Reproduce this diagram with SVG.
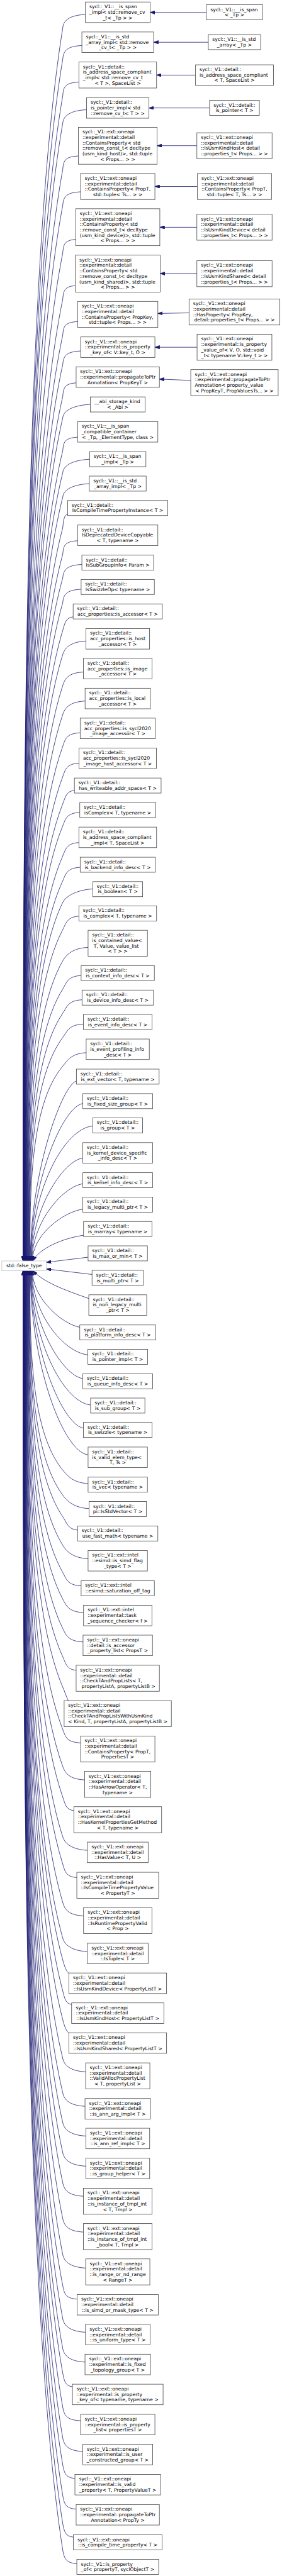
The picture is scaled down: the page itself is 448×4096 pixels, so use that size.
<svg xmlns="http://www.w3.org/2000/svg" width="448" height="4096" viewBox="0 0 448 4096">
<style>
text{font-family:"DejaVu Sans","Liberation Sans",sans-serif;font-size:13px;fill:#000}
.c{text-anchor:middle}
.n rect{fill:#fff;stroke:#404040;stroke-width:1.33}
#ft rect{stroke:#bfbfbf}
#edges path{fill:none;stroke:#191970;stroke-width:1.33;marker-end:url(#ah)}
</style>
<defs><marker id="ah" markerUnits="userSpaceOnUse" viewBox="0 0 13.3 9.4" markerWidth="13.3" markerHeight="9.4" refX="12.8" refY="4.7" orient="auto"><path d="M0,0L13.3,4.7L0,9.4z" fill="#191970" stroke="#191970" stroke-width="1"/></marker></defs>
<rect width="448" height="4096" fill="#fff"/>
<g transform="scale(0.5934)">
<g id="edges">
<path d="M552.4,33.3L401.9,33.3"/>
<path d="M557.7,113.2L411.3,113.2"/>
<path d="M523.5,201.2L419.2,201.2"/>
<path d="M561,289.3L398.8,289.3"/>
<path d="M527.1,390.4L420.7,390.4"/>
<path d="M528.5,499.7L414.7,499.7"/>
<path d="M527.1,609L427.9,609"/>
<path d="M527.1,733L428.9,733"/>
<path d="M506.1,838.4L422.6,839.9"/>
<path d="M527.6,930.5L414.7,930.5"/>
<path d="M510.7,1019.3L426.7,1015.9"/>
<path d="M228.6,38.8C188.6,40.8 170,52.8 168,74.8C62,735.6 62,2222.4 62,3378.8"/>
<path d="M219.2,122C179.2,124 170,136 168,158C62,802.2 62,2251.5 62,3378.8"/>
<path d="M211.2,220C172,222 170,234 168,256C62.1,880.6 62.1,2285.8 62.1,3378.8"/>
<path d="M231.7,294C191.7,296 170,308 168,330C62.1,939.8 62.1,2311.7 62.1,3378.8"/>
<path d="M209.8,418C172,420 170,432 168,454C62.2,1039 62.2,2355.1 62.2,3378.8"/>
<path d="M215.8,514C175.8,516 170,528 168,550C62.4,1115.8 62.4,2388.7 62.4,3378.8"/>
<path d="M202.6,641.6C172,643.6 170,655.6 168,677.6C62.5,1217.9 62.5,2433.4 62.5,3378.8"/>
<path d="M201.6,765.5C172,767.5 170,779.5 168,801.5C62.7,1317 62.7,2476.7 62.7,3378.8"/>
<path d="M207.8,861.7C172,863.7 170,875.7 168,897.7C62.9,1394 62.9,2510.4 62.9,3378.8"/>
<path d="M215.8,940.5C175.8,942.5 170,954.5 168,976.5C63.2,1457 63.2,2538 63.2,3378.8"/>
<path d="M203.8,1026C172,1028 170,1040 168,1062C63.5,1525.4 63.5,2567.9 63.5,3378.8"/>
<path d="M241.8,1083.6C201.8,1085.6 170,1097.6 168,1119.6C63.8,1571.5 63.8,2588.1 63.8,3378.8"/>
<path d="M207.8,1171.5C172,1173.5 170,1185.5 168,1207.5C64.1,1641.8 64.1,2618.8 64.1,3378.8"/>
<path d="M239.9,1230.6C199.9,1232.6 170,1244.6 168,1266.6C64.5,1689.1 64.5,2639.5 64.5,3378.8"/>
<path d="M239.1,1296C199.1,1298 170,1310 168,1332C64.9,1741.4 64.9,2662.4 64.9,3378.8"/>
<path d="M181.1,1378C172,1380 170,1392 168,1414C65.3,1807 65.3,2691.1 65.3,3378.8"/>
<path d="M207.8,1449C172,1451 170,1463 168,1485C65.8,1863.8 65.8,2716 65.8,3378.8"/>
<path d="M219.2,1512.5C179.2,1514.5 170,1526.5 168,1548.5C66.3,1914.6 66.3,2738.2 66.3,3378.8"/>
<path d="M217.2,1579C177.2,1581 170,1593 168,1615C66.8,1967.8 66.8,2761.5 66.8,3378.8"/>
<path d="M195.8,1653C175.7,1655 173.7,1669.8 168,1689C67.3,2027 67.3,2787.4 67.3,3378.8"/>
<path d="M230,1717.8C190,1719.8 173.9,1734.7 168,1753.8C67.9,2078.8 67.9,2810 67.9,3378.8"/>
<path d="M223.3,1800.8C183.3,1802.8 174.1,1817.8 168,1836.8C68.5,2145.2 68.5,2839.1 68.5,3378.8"/>
<path d="M227.8,1878.5C187.8,1880.5 174.4,1895.5 168,1914.5C69.1,2207.4 69.1,2866.3 69.1,3378.8"/>
<path d="M214.6,1963.6C176.7,1965.6 174.7,1980.8 168,1999.6C69.8,2275.5 69.8,2896.1 69.8,3378.8"/>
<path d="M211.7,2045C177,2047 175,2062.3 168,2081C70.5,2340.6 70.5,2924.6 70.5,3378.8"/>
<path d="M199.2,2118C177.4,2120 175.4,2135.4 168,2154C71.2,2399 71.2,2950.1 71.2,3378.8"/>
<path d="M213.6,2177C177.6,2179 175.6,2194.5 168,2213C72,2446.2 72,2970.8 72,3378.8"/>
<path d="M211.2,2257.7C178,2259.7 176,2275.4 168,2293.7C72.7,2510.8 72.7,2999 72.7,3378.8"/>
<path d="M214.6,2324C178.4,2326 176.4,2341.9 168,2360C73.6,2563.8 73.6,3022.2 73.6,3378.8"/>
<path d="M248.5,2382C208.5,2384 176.8,2400 168,2418C74.4,2610.2 74.4,3042.5 74.4,3378.8"/>
<path d="M211.2,2455C179.3,2457 177.3,2473.3 168,2491C75.3,2668.6 75.3,3068.1 75.3,3378.8"/>
<path d="M235.8,2538.6C195.8,2540.6 177.9,2557.2 168,2574.6C76.2,2735.5 76.2,3097.3 76.2,3378.8"/>
<path d="M217.2,2614C180.6,2616 178.6,2633 168,2650C77.1,2795.8 77.1,3123.7 77.1,3378.8"/>
<path d="M219.6,2679C181.2,2681 179.2,2698.4 168,2715C78.1,2847.8 78.1,3146.5 78.1,3378.8"/>
<path d="M223.3,2744C183.3,2746 179.9,2763.9 168,2780C79,2899.8 79,3169.2 79,3378.8"/>
<path d="M230.7,2820.8C190.7,2822.8 180.9,2841.5 168,2856.8C80.1,2961.2 80.1,3196.1 80.1,3378.8"/>
<path d="M204.5,2897C168,2905 81.1,3137.9 81.1,3378.8"/>
<path d="M221.8,2957C168,2965 82.2,3167.9 82.2,3378.8"/>
<path d="M248.5,3017C168,3025 83.3,3197.9 83.3,3378.8"/>
<path d="M221.8,3103C168,3111 84.4,3240.9 84.4,3378.8"/>
<path d="M221.8,3172C168,3180 85.6,3275.4 85.6,3378.8"/>
<path d="M221.8,3240C168,3248 86.8,3309.4 86.8,3378.8"/>
<path d="M223.7,3310C168,3318 105,3345 88,3378.8"/>
<path d="M235.8,3368.8L124.2,3382.5"/>
<path d="M246.4,3415L124.2,3400.3"/>
<path d="M237.7,3479.6C190,3462 120,3440 88,3404.7"/>
<path d="M213.6,3556.5C168,3548.5 86.8,3480.6 86.8,3404.7"/>
<path d="M235.3,3630.5C168,3622.5 85.6,3517.6 85.6,3404.7"/>
<path d="M221.8,3694C168,3686 84.4,3549.4 84.4,3404.7"/>
<path d="M242.5,3764.8C168,3756.8 83.3,3584.8 83.3,3404.7"/>
<path d="M223.3,3826.6C168,3818.6 82.2,3615.7 82.2,3404.7"/>
<path d="M235.8,3898.3C168,3890.3 81.1,3651.5 81.1,3404.7"/>
<path d="M235.8,3975.3C195.8,3973.3 180.7,3954.7 168,3939.3C80.1,3832.3 80.1,3591.9 80.1,3404.7"/>
<path d="M238.4,4042.4C198.4,4040.4 179.9,4022.5 168,4006.4C79,3886 79,3615.3 79,3404.7"/>
<path d="M207.8,4100C181.3,4098 179.3,4080.5 168,4064C78.1,3932.1 78.1,3635.5 78.1,3404.7"/>
<path d="M235.8,4176.7C195.8,4174.7 178.5,4157.7 168,4140.7C77.1,3993.5 77.1,3662.3 77.1,3404.7"/>
<path d="M217.2,4249.5C179.9,4247.5 177.9,4230.9 168,4213.5C76.2,4051.7 76.2,3687.8 76.2,3404.7"/>
<path d="M223.7,4321C183.7,4319 177.3,4302.7 168,4285C75.3,4108.9 75.3,3712.9 75.3,3404.7"/>
<path d="M222.3,4399.7C182.3,4397.7 176.8,4381.7 168,4363.7C74.4,4171.9 74.4,3740.4 74.4,3404.7"/>
<path d="M203.8,4475.5C178.3,4473.5 176.3,4457.7 168,4439.5C73.6,4232.5 73.6,3766.9 73.6,3404.7"/>
<path d="M183,4557C179,4550 175.9,4539.4 168,4521C72.7,4297.7 72.7,3795.5 72.7,3404.7"/>
<path d="M215.8,4670.3C177.3,4668.3 175.3,4652.9 168,4634.3C72,4388.3 72,3835.1 72,3404.7"/>
<path d="M226.6,4769.4C186.6,4767.4 174.8,4752.2 168,4733.4C71.2,4467.6 71.2,3869.8 71.2,3404.7"/>
<path d="M197.7,4851.5C176.5,4849.5 174.5,4834.4 168,4815.5C70.5,4533.3 70.5,3898.5 70.5,3404.7"/>
<path d="M233.8,4958C193.8,4956 174.2,4941 168,4922C69.8,4618.5 69.8,3935.8 69.8,3404.7"/>
<path d="M205.7,5031C175.9,5029 173.9,5014.1 168,4995C69.1,4676.9 69.1,3961.4 69.1,3404.7"/>
<path d="M223.7,5133.8C183.7,5131.8 173.6,5117 168,5097.8C68.5,4759.1 68.5,3997.3 68.5,3404.7"/>
<path d="M233.8,5229.4C193.8,5227.4 173.4,5212.7 168,5193.4C67.9,4835.6 67.9,4030.8 67.9,3404.7"/>
<path d="M184.5,5288C178,5283 173.3,5271.3 168,5252C67.3,4882.5 67.3,4051.3 67.3,3404.7"/>
<path d="M191.7,5371C175.1,5369 173.1,5354.3 168,5335C66.8,4948.9 66.8,4080.4 66.8,3404.7"/>
<path d="M184.5,5448C178,5443 173,5431.4 168,5412C66.3,5010.5 66.3,4107.3 66.3,3404.7"/>
<path d="M229.3,5551.6C189.3,5549.6 172,5535.2 168,5515.6C65.8,5093.4 65.8,4143.6 65.8,3404.7"/>
<path d="M227.6,5644C187.6,5642 172,5627.6 168,5608C65.3,5167.3 65.3,4175.9 65.3,3404.7"/>
<path d="M229.8,5723.6C189.8,5721.6 172,5707.2 168,5687.6C64.9,5231 64.9,4203.8 64.9,3404.7"/>
<path d="M229.8,5804.4C189.8,5802.4 172,5788 168,5768.4C64.5,5295.6 64.5,4232 64.5,3404.7"/>
<path d="M223.3,5885C183.3,5883 172,5868.6 168,5849C64.1,5360.1 64.1,4260.3 64.1,3404.7"/>
<path d="M223.3,5981C183.3,5979 172,5964.6 168,5945C63.8,5436.9 63.8,4293.9 63.8,3404.7"/>
<path d="M229.3,6077.4C189.3,6075.4 172,6061 168,6041.4C63.5,5514 63.5,4327.6 63.5,3404.7"/>
<path d="M206.4,6160.6C174,6158.6 172,6144.2 168,6124.6C63.2,5580.6 63.2,4356.7 63.2,3404.7"/>
<path d="M228.8,6249.4C188.8,6247.4 172,6233 168,6213.4C62.9,5651.6 62.9,4387.8 62.9,3404.7"/>
<path d="M227.6,6329.4C187.6,6327.4 172,6313 168,6293.4C62.7,5715.6 62.7,4415.8 62.7,3404.7"/>
<path d="M193.9,6395.3C174,6393.3 172,6378.9 168,6359.3C62.5,5768.3 62.5,4438.9 62.5,3404.7"/>
<path d="M215.8,6486.6C175.8,6484.6 172,6470.2 168,6450.6C62.4,5841.4 62.4,4470.8 62.4,3404.7"/>
<path d="M221.8,6569C181.8,6567 172,6552.6 168,6533C62.2,5907.3 62.2,4499.7 62.2,3404.7"/>
<path d="M200.6,6641C174,6639 172,6624.6 168,6605C62.1,5964.9 62.1,4524.9 62.1,3404.7"/>
<path d="M203.8,6723.4C174,6721.4 172,6707 168,6687.4C62.1,6030.8 62.1,4553.7 62.1,3404.7"/>
<path d="M196.5,6798.5C174,6796.5 172,6782.1 168,6762.5C62,6090.9 62,4580 62,3404.7"/>
<path d="M205.7,6869.5C174,6867.5 172,6853.1 168,6833.5C62,6147.7 62,4604.8 62,3404.7"/>
</g>
<g id="ft" class="n"><rect x="4.8" y="3378.8" width="119.4" height="25.9"/><text class="c" x="64.5" y="3395.8">std::false_type</text></g>
<g id="r1" class="n"><rect x="552.4" y="12.8" width="150.7" height="40.3"/><text x="563.2" y="29.6">sycl::_V1::__is_span</text><text class="c" x="627.7" y="44.2">&lt; _Tp &gt;</text></g>
<g id="r2" class="n"><rect x="557.7" y="92.7" width="140.1" height="40.3"/><text x="568.5" y="109.5">sycl::_V1::__is_std</text><text class="c" x="627.7" y="124.1">_array&lt; _Tp &gt;</text></g>
<g id="r3" class="n"><rect x="523.5" y="173.7" width="208.5" height="55"/><text x="534.3" y="190.5">sycl::_V1::detail::</text><text x="534.3" y="205.2">is_address_space_compliant</text><text class="c" x="627.7" y="219.9">&lt; T, SpaceList &gt;</text></g>
<g id="r4" class="n"><rect x="561" y="269" width="133.4" height="40.3"/><text x="571.8" y="285.8">sycl::_V1::detail::</text><text class="c" x="627.7" y="300.4">is_pointer&lt; T &gt;</text></g>
<g id="r5" class="n"><rect x="527.1" y="355.8" width="201.3" height="69.7"/><text x="537.9" y="372.6">sycl::_V1::ext::oneapi</text><text x="537.9" y="387.3">::experimental::detail</text><text x="537.9" y="401.9">::IsUsmKindHost&lt; detail</text><text class="c" x="627.7" y="416.6">::properties_t&lt; Props... &gt; &gt;</text></g>
<g id="r6" class="n"><rect x="528.5" y="464.9" width="198.4" height="69.7"/><text x="539.3" y="481.7">sycl::_V1::ext::oneapi</text><text x="539.3" y="496.4">::experimental::detail</text><text x="539.3" y="511">::ContainsProperty&lt; PropT,</text><text class="c" x="627.7" y="525.7">std::tuple&lt; T, Ts... &gt; &gt;</text></g>
<g id="r7" class="n"><rect x="527.1" y="574" width="201.3" height="69.7"/><text x="537.9" y="590.8">sycl::_V1::ext::oneapi</text><text x="537.9" y="605.5">::experimental::detail</text><text x="537.9" y="620.1">::IsUsmKindDevice&lt; detail</text><text class="c" x="627.7" y="634.8">::properties_t&lt; Props... &gt; &gt;</text></g>
<g id="r8" class="n"><rect x="527.1" y="698.5" width="201.3" height="69.7"/><text x="537.9" y="715.3">sycl::_V1::ext::oneapi</text><text x="537.9" y="730">::experimental::detail</text><text x="537.9" y="744.6">::IsUsmKindShared&lt; detail</text><text class="c" x="627.7" y="759.3">::properties_t&lt; Props... &gt; &gt;</text></g>
<g id="r9" class="n"><rect x="506.1" y="801.1" width="243.2" height="69.7"/><text x="516.9" y="817.9">sycl::_V1::ext::oneapi</text><text x="516.9" y="832.6">::experimental::detail</text><text x="516.9" y="847.2">::HasProperty&lt; PropKey,</text><text class="c" x="627.7" y="861.9">detail::properties_t&lt; Props... &gt; &gt;</text></g>
<g id="r10" class="n"><rect x="527.6" y="895.7" width="200.3" height="69.7"/><text x="538.4" y="912.5">sycl::_V1::ext::oneapi</text><text x="538.4" y="927.2">::experimental::is_property</text><text x="538.4" y="941.8">_value_of&lt; V, O, std::void</text><text class="c" x="627.7" y="956.5">_t&lt; typename V::key_t &gt; &gt;</text></g>
<g id="r11" class="n"><rect x="510.7" y="990.4" width="234" height="69.7"/><text x="521.5" y="1007.2">sycl::_V1::ext::oneapi</text><text x="521.5" y="1021.9">::experimental::propagateToPtr</text><text x="521.5" y="1036.5">Annotation&lt; property_value</text><text class="c" x="627.7" y="1051.2">&lt; PropKeyT, PropValuesTs... &gt; &gt;</text></g>
<g id="n1" class="n"><rect x="228.6" y="5.4" width="173.3" height="55"/><text x="239.4" y="22.2">sycl::_V1::__is_span</text><text x="239.4" y="36.9">_impl&lt; std::remove_cv</text><text class="c" x="315.2" y="51.6">_t&lt; _Tp &gt; &gt;</text></g>
<g id="n2" class="n"><rect x="219.2" y="85.7" width="192.1" height="55"/><text x="230" y="102.5">sycl::_V1::__is_std</text><text x="230" y="117.2">_array_impl&lt; std::remove</text><text class="c" x="315.2" y="131.9">_cv_t&lt; _Tp &gt; &gt;</text></g>
<g id="n3" class="n"><rect x="211.2" y="166.2" width="208" height="69.7"/><text x="222" y="183">sycl::_V1::detail::</text><text x="222" y="197.7">is_address_space_compliant</text><text x="222" y="212.3">_impl&lt; std::remove_cv_t</text><text class="c" x="315.2" y="227">&lt; T &gt;, SpaceList &gt;</text></g>
<g id="n4" class="n"><rect x="231.7" y="261.8" width="167.1" height="55"/><text x="242.5" y="278.6">sycl::_V1::detail::</text><text x="242.5" y="293.3">is_pointer_impl&lt; std</text><text class="c" x="315.2" y="308">::remove_cv_t&lt; T &gt; &gt;</text></g>
<g id="n5" class="n"><rect x="209.8" y="341.1" width="210.9" height="99"/><text x="220.6" y="357.9">sycl::_V1::ext::oneapi</text><text x="220.6" y="372.6">::experimental::detail</text><text x="220.6" y="387.3">::ContainsProperty&lt; std</text><text x="220.6" y="401.9">::remove_const_t&lt; decltype</text><text x="220.6" y="416.6">(usm_kind_host)&gt;, std::tuple</text><text class="c" x="315.2" y="431.3">&lt; Props... &gt; &gt;</text></g>
<g id="n6" class="n"><rect x="215.8" y="464.9" width="198.9" height="69.7"/><text x="226.6" y="481.7">sycl::_V1::ext::oneapi</text><text x="226.6" y="496.4">::experimental::detail</text><text x="226.6" y="511">::ContainsProperty&lt; PropT,</text><text class="c" x="315.2" y="525.7">std::tuple&lt; Ts... &gt; &gt;</text></g>
<g id="n7" class="n"><rect x="202.6" y="559.3" width="225.3" height="99"/><text x="213.4" y="576.1">sycl::_V1::ext::oneapi</text><text x="213.4" y="590.8">::experimental::detail</text><text x="213.4" y="605.5">::ContainsProperty&lt; std</text><text x="213.4" y="620.1">::remove_const_t&lt; decltype</text><text x="213.4" y="634.8">(usm_kind_device)&gt;, std::tuple</text><text class="c" x="315.2" y="649.5">&lt; Props... &gt; &gt;</text></g>
<g id="n8" class="n"><rect x="201.6" y="683.7" width="227.3" height="99"/><text x="212.4" y="700.5">sycl::_V1::ext::oneapi</text><text x="212.4" y="715.2">::experimental::detail</text><text x="212.4" y="729.9">::ContainsProperty&lt; std</text><text x="212.4" y="744.5">::remove_const_t&lt; decltype</text><text x="212.4" y="759.2">(usm_kind_shared)&gt;, std::tuple</text><text class="c" x="315.2" y="773.9">&lt; Props... &gt; &gt;</text></g>
<g id="n9" class="n"><rect x="207.8" y="807.7" width="214.8" height="69.7"/><text x="218.6" y="824.5">sycl::_V1::ext::oneapi</text><text x="218.6" y="839.2">::experimental::detail</text><text x="218.6" y="853.8">::ContainsProperty&lt; PropKey,</text><text class="c" x="315.2" y="868.5">std::tuple&lt; Props... &gt; &gt;</text></g>
<g id="n10" class="n"><rect x="215.8" y="902.8" width="198.9" height="55"/><text x="226.6" y="919.6">sycl::_V1::ext::oneapi</text><text x="226.6" y="934.3">::experimental::is_property</text><text class="c" x="315.2" y="949">_key_of&lt; V::key_t, O &gt;</text></g>
<g id="n11" class="n"><rect x="203.8" y="982.9" width="222.9" height="55"/><text x="214.6" y="999.7">sycl::_V1::ext::oneapi</text><text x="214.6" y="1014.4">::experimental::propagateToPtr</text><text class="c" x="315.2" y="1029.1">Annotation&lt; PropKeyT &gt;</text></g>
<g id="n12" class="n"><rect x="241.8" y="1063.6" width="146.9" height="40.3"/><text x="252.6" y="1080.4">__abi_storage_kind</text><text class="c" x="315.2" y="1095">&lt; _Abi &gt;</text></g>
<g id="n13" class="n"><rect x="207.8" y="1129.7" width="214.8" height="55"/><text x="218.6" y="1146.5">sycl::_V1::__is_span</text><text x="218.6" y="1161.2">_compatible_container</text><text class="c" x="315.2" y="1175.9">&lt; _Tp, _ElementType, class &gt;</text></g>
<g id="n14" class="n"><rect x="239.9" y="1210.2" width="150.7" height="40.3"/><text x="250.7" y="1227">sycl::_V1::__is_span</text><text class="c" x="315.2" y="1241.6">_impl&lt; _Tp &gt;</text></g>
<g id="n15" class="n"><rect x="239.1" y="1275.7" width="152.2" height="40.3"/><text x="249.9" y="1292.5">sycl::_V1::__is_std</text><text class="c" x="315.2" y="1307.1">_array_impl&lt; _Tp &gt;</text></g>
<g id="n16" class="n"><rect x="181.1" y="1341.1" width="268.2" height="40.3"/><text x="191.9" y="1357.9">sycl::_V1::detail::</text><text class="c" x="315.2" y="1372.5">IsCompileTimePropertyInstance&lt; T &gt;</text></g>
<g id="n17" class="n"><rect x="207.8" y="1406.8" width="214.8" height="55"/><text x="218.6" y="1423.6">sycl::_V1::detail::</text><text x="218.6" y="1438.3">IsDeprecatedDeviceCopyable</text><text class="c" x="315.2" y="1453">&lt; T, typename &gt;</text></g>
<g id="n18" class="n"><rect x="219.2" y="1487.6" width="192.1" height="40.3"/><text x="230" y="1504.4">sycl::_V1::detail::</text><text class="c" x="315.2" y="1519">IsSubGroupInfo&lt; Param &gt;</text></g>
<g id="n19" class="n"><rect x="217.2" y="1552.7" width="196" height="40.3"/><text x="228" y="1569.5">sycl::_V1::detail::</text><text class="c" x="315.2" y="1584.1">IsSwizzleOp&lt; typename &gt;</text></g>
<g id="n20" class="n"><rect x="195.8" y="1618.2" width="238.8" height="40.3"/><text x="206.6" y="1635">sycl::_V1::detail::</text><text class="c" x="315.2" y="1649.6">acc_properties::is_accessor&lt; T &gt;</text></g>
<g id="n21" class="n"><rect x="230" y="1684.3" width="170.5" height="55"/><text x="240.8" y="1701.1">sycl::_V1::detail::</text><text x="240.8" y="1715.8">acc_properties::is_host</text><text class="c" x="315.2" y="1730.5">_accessor&lt; T &gt;</text></g>
<g id="n22" class="n"><rect x="223.3" y="1764.1" width="183.9" height="55"/><text x="234.1" y="1780.9">sycl::_V1::detail::</text><text x="234.1" y="1795.6">acc_properties::is_image</text><text class="c" x="315.2" y="1810.3">_accessor&lt; T &gt;</text></g>
<g id="n23" class="n"><rect x="227.8" y="1844.2" width="174.8" height="55"/><text x="238.6" y="1861">sycl::_V1::detail::</text><text x="238.6" y="1875.7">acc_properties::is_local</text><text class="c" x="315.2" y="1890.4">_accessor&lt; T &gt;</text></g>
<g id="n24" class="n"><rect x="214.6" y="1924.3" width="201.3" height="55"/><text x="225.4" y="1941.1">sycl::_V1::detail::</text><text x="225.4" y="1955.8">acc_properties::is_sycl2020</text><text class="c" x="315.2" y="1970.5">_image_accessor&lt; T &gt;</text></g>
<g id="n25" class="n"><rect x="211.7" y="2004.3" width="207" height="55"/><text x="222.5" y="2021.1">sycl::_V1::detail::</text><text x="222.5" y="2035.8">acc_properties::is_sycl2020</text><text class="c" x="315.2" y="2050.5">_image_host_accessor&lt; T &gt;</text></g>
<g id="n26" class="n"><rect x="199.2" y="2084.8" width="232.1" height="40.3"/><text x="210" y="2101.6">sycl::_V1::detail::</text><text class="c" x="315.2" y="2116.2">has_writeable_addr_space&lt; T &gt;</text></g>
<g id="n27" class="n"><rect x="213.6" y="2150.3" width="203.2" height="40.3"/><text x="224.4" y="2167.1">sycl::_V1::detail::</text><text class="c" x="315.2" y="2181.7">isComplex&lt; T, typename &gt;</text></g>
<g id="n28" class="n"><rect x="211.2" y="2216.3" width="208" height="55"/><text x="222" y="2233.1">sycl::_V1::detail::</text><text x="222" y="2247.8">is_address_space_compliant</text><text class="c" x="315.2" y="2262.5">_impl&lt; T, SpaceList &gt;</text></g>
<g id="n29" class="n"><rect x="214.6" y="2297" width="201.3" height="40.3"/><text x="225.4" y="2313.8">sycl::_V1::detail::</text><text class="c" x="315.2" y="2328.4">is_backend_info_desc&lt; T &gt;</text></g>
<g id="n30" class="n"><rect x="248.5" y="2362.4" width="133.4" height="40.3"/><text x="259.3" y="2379.2">sycl::_V1::detail::</text><text class="c" x="315.2" y="2393.8">is_boolean&lt; T &gt;</text></g>
<g id="n31" class="n"><rect x="211.2" y="2427.5" width="208" height="40.3"/><text x="222" y="2444.3">sycl::_V1::detail::</text><text class="c" x="315.2" y="2458.9">is_complex&lt; T, typename &gt;</text></g>
<g id="n32" class="n"><rect x="235.8" y="2492.7" width="158.9" height="69.7"/><text x="246.6" y="2509.5">sycl::_V1::detail::</text><text x="246.6" y="2524.2">is_contained_value&lt;</text><text x="250.7" y="2538.8">T, Value, value_list</text><text class="c" x="315.2" y="2553.5">&lt; T &gt; &gt;</text></g>
<g id="n33" class="n"><rect x="217.2" y="2587.3" width="196" height="40.3"/><text x="228" y="2604.1">sycl::_V1::detail::</text><text class="c" x="315.2" y="2618.7">is_context_info_desc&lt; T &gt;</text></g>
<g id="n34" class="n"><rect x="219.6" y="2653" width="191.2" height="40.3"/><text x="230.4" y="2669.8">sycl::_V1::detail::</text><text class="c" x="315.2" y="2684.4">is_device_info_desc&lt; T &gt;</text></g>
<g id="n35" class="n"><rect x="223.3" y="2718.3" width="183.9" height="40.3"/><text x="234.1" y="2735.1">sycl::_V1::detail::</text><text class="c" x="315.2" y="2749.7">is_event_info_desc&lt; T &gt;</text></g>
<g id="n36" class="n"><rect x="230.7" y="2784.1" width="169" height="55"/><text x="241.5" y="2800.9">sycl::_V1::detail::</text><text x="241.5" y="2815.6">is_event_profiling_info</text><text class="c" x="315.2" y="2830.3">_desc&lt; T &gt;</text></g>
<g id="n37" class="n"><rect x="204.5" y="2864.8" width="221.5" height="40.3"/><text x="215.3" y="2881.6">sycl::_V1::detail::</text><text class="c" x="315.2" y="2896.2">is_ext_vector&lt; T, typename &gt;</text></g>
<g id="n38" class="n"><rect x="221.8" y="2930.4" width="186.8" height="40.3"/><text x="232.6" y="2947.2">sycl::_V1::detail::</text><text class="c" x="315.2" y="2961.8">is_fixed_size_group&lt; T &gt;</text></g>
<g id="n39" class="n"><rect x="248.5" y="2995.3" width="133.4" height="40.3"/><text x="259.3" y="3012.1">sycl::_V1::detail::</text><text class="c" x="315.2" y="3026.7">is_group&lt; T &gt;</text></g>
<g id="n40" class="n"><rect x="221.8" y="3061.7" width="186.8" height="55"/><text x="232.6" y="3078.5">sycl::_V1::detail::</text><text x="232.6" y="3093.2">is_kernel_device_specific</text><text class="c" x="315.2" y="3107.9">_info_desc&lt; T &gt;</text></g>
<g id="n41" class="n"><rect x="221.8" y="3142.3" width="186.8" height="40.3"/><text x="232.6" y="3159.1">sycl::_V1::detail::</text><text class="c" x="315.2" y="3173.7">is_kernel_info_desc&lt; T &gt;</text></g>
<g id="n42" class="n"><rect x="221.8" y="3207.8" width="186.8" height="40.3"/><text x="232.6" y="3224.6">sycl::_V1::detail::</text><text class="c" x="315.2" y="3239.2">is_legacy_multi_ptr&lt; T &gt;</text></g>
<g id="n43" class="n"><rect x="223.7" y="3273.1" width="183" height="40.3"/><text x="234.5" y="3289.9">sycl::_V1::detail::</text><text class="c" x="315.2" y="3304.5">is_marray&lt; typename &gt;</text></g>
<g id="n44" class="n"><rect x="235.8" y="3338.4" width="158.9" height="40.3"/><text x="246.6" y="3355.2">sycl::_V1::detail::</text><text class="c" x="315.2" y="3369.8">is_max_or_min&lt; T &gt;</text></g>
<g id="n45" class="n"><rect x="246.4" y="3403.9" width="137.7" height="40.3"/><text x="257.2" y="3420.7">sycl::_V1::detail::</text><text class="c" x="315.2" y="3435.3">is_multi_ptr&lt; T &gt;</text></g>
<g id="n46" class="n"><rect x="237.7" y="3469.5" width="155" height="55"/><text x="248.5" y="3486.3">sycl::_V1::detail::</text><text x="248.5" y="3501">is_non_legacy_multi</text><text class="c" x="315.2" y="3515.7">_ptr&lt; T &gt;</text></g>
<g id="n47" class="n"><rect x="213.6" y="3550.3" width="203.2" height="40.3"/><text x="224.4" y="3567.1">sycl::_V1::detail::</text><text class="c" x="315.2" y="3581.7">is_platform_info_desc&lt; T &gt;</text></g>
<g id="n48" class="n"><rect x="235.3" y="3615.6" width="159.9" height="40.3"/><text x="246.1" y="3632.4">sycl::_V1::detail::</text><text class="c" x="315.2" y="3647">is_pointer_impl&lt; T &gt;</text></g>
<g id="n49" class="n"><rect x="221.8" y="3681.1" width="186.8" height="40.3"/><text x="232.6" y="3697.9">sycl::_V1::detail::</text><text class="c" x="315.2" y="3712.5">is_queue_info_desc&lt; T &gt;</text></g>
<g id="n50" class="n"><rect x="242.5" y="3746.2" width="145.4" height="40.3"/><text x="253.3" y="3763">sycl::_V1::detail::</text><text class="c" x="315.2" y="3777.6">is_sub_group&lt; T &gt;</text></g>
<g id="n51" class="n"><rect x="223.3" y="3811.5" width="183.9" height="40.3"/><text x="234.1" y="3828.3">sycl::_V1::detail::</text><text class="c" x="315.2" y="3842.9">is_swizzle&lt; typename &gt;</text></g>
<g id="n52" class="n"><rect x="235.8" y="3877.5" width="158.9" height="55"/><text x="246.6" y="3894.3">sycl::_V1::detail::</text><text x="246.6" y="3909">is_valid_elem_type&lt;</text><text class="c" x="315.2" y="3923.7">T, Ts &gt;</text></g>
<g id="n53" class="n"><rect x="235.8" y="3958.1" width="158.9" height="40.3"/><text x="246.6" y="3974.9">sycl::_V1::detail::</text><text class="c" x="315.2" y="3989.5">is_vec&lt; typename &gt;</text></g>
<g id="n54" class="n"><rect x="238.4" y="4023.5" width="153.6" height="40.3"/><text x="249.2" y="4040.3">sycl::_V1::detail::</text><text class="c" x="315.2" y="4054.9">pi::IsStdVector&lt; T &gt;</text></g>
<g id="n55" class="n"><rect x="207.8" y="4088.9" width="214.8" height="40.3"/><text x="218.6" y="4105.7">sycl::_V1::detail::</text><text class="c" x="315.2" y="4120.3">use_fast_math&lt; typename &gt;</text></g>
<g id="n56" class="n"><rect x="235.8" y="4154.7" width="158.9" height="55"/><text x="246.6" y="4171.5">sycl::_V1::ext::intel</text><text x="246.6" y="4186.2">::esimd::is_simd_flag</text><text class="c" x="315.2" y="4200.9">_type&lt; T &gt;</text></g>
<g id="n57" class="n"><rect x="217.2" y="4235.7" width="196" height="40.3"/><text x="228" y="4252.5">sycl::_V1::ext::intel</text><text class="c" x="315.2" y="4267.1">::esimd::saturation_off_tag</text></g>
<g id="n58" class="n"><rect x="223.7" y="4301.4" width="183" height="55"/><text x="234.5" y="4318.2">sycl::_V1::ext::intel</text><text x="234.5" y="4332.9">::experimental::task</text><text class="c" x="315.2" y="4347.6">_sequence_checker&lt; f &gt;</text></g>
<g id="n59" class="n"><rect x="222.3" y="4381.5" width="185.9" height="55"/><text x="233.1" y="4398.3">sycl::_V1::ext::oneapi</text><text x="233.1" y="4413">::detail::is_accessor</text><text class="c" x="315.2" y="4427.7">_property_list&lt; PropsT &gt;</text></g>
<g id="n60" class="n"><rect x="203.8" y="4462.2" width="222.9" height="69.7"/><text x="214.6" y="4479">sycl::_V1::ext::oneapi</text><text x="214.6" y="4493.7">::experimental::detail</text><text x="214.6" y="4508.3">::CheckTAndPropLists&lt; T,</text><text class="c" x="317.2" y="4523">propertyListA, propertyListB &gt;</text></g>
<g id="n61" class="n"><rect x="171.7" y="4557" width="287" height="69.7"/><text x="182.5" y="4573.8">sycl::_V1::ext::oneapi</text><text x="182.5" y="4588.5">::experimental::detail</text><text x="182.5" y="4603.1">::CheckTAndPropListsWithUsmKind</text><text class="c" x="315.2" y="4617.8">&lt; Kind, T, propertyListA, propertyListB &gt;</text></g>
<g id="n62" class="n"><rect x="215.8" y="4651.8" width="198.9" height="69.7"/><text x="226.6" y="4668.6">sycl::_V1::ext::oneapi</text><text x="226.6" y="4683.3">::experimental::detail</text><text x="226.6" y="4697.9">::ContainsProperty&lt; PropT,</text><text class="c" x="315.2" y="4712.6">PropertiesT &gt;</text></g>
<g id="n63" class="n"><rect x="226.6" y="4746.5" width="177.2" height="69.7"/><text x="237.4" y="4763.3">sycl::_V1::ext::oneapi</text><text x="237.4" y="4778">::experimental::detail</text><text x="237.4" y="4792.6">::HasArrowOperator&lt; T,</text><text class="c" x="315.2" y="4807.3">typename &gt;</text></g>
<g id="n64" class="n"><rect x="197.7" y="4841.2" width="235" height="69.7"/><text x="208.5" y="4858">sycl::_V1::ext::oneapi</text><text x="208.5" y="4872.7">::experimental::detail</text><text x="208.5" y="4887.3">::HasKernelPropertiesGetMethod</text><text class="c" x="315.2" y="4902">&lt; T, typename &gt;</text></g>
<g id="n65" class="n"><rect x="233.8" y="4936.1" width="162.8" height="55"/><text x="244.6" y="4952.9">sycl::_V1::ext::oneapi</text><text x="244.6" y="4967.6">::experimental::detail</text><text class="c" x="315.2" y="4982.3">::HasValue&lt; T, U &gt;</text></g>
<g id="n66" class="n"><rect x="205.7" y="5016.9" width="219.1" height="69.7"/><text x="216.5" y="5033.7">sycl::_V1::ext::oneapi</text><text x="216.5" y="5048.4">::experimental::detail</text><text x="216.5" y="5063">::IsCompileTimePropertyValue</text><text class="c" x="315.2" y="5077.7">&lt; PropertyT &gt;</text></g>
<g id="n67" class="n"><rect x="223.7" y="5111.5" width="183" height="69.7"/><text x="234.5" y="5128.3">sycl::_V1::ext::oneapi</text><text x="234.5" y="5143">::experimental::detail</text><text x="234.5" y="5157.6">::IsRuntimePropertyValid</text><text class="c" x="315.2" y="5172.3">&lt; Prop &gt;</text></g>
<g id="n68" class="n"><rect x="233.8" y="5207.1" width="162.8" height="55"/><text x="244.6" y="5223.9">sycl::_V1::ext::oneapi</text><text x="244.6" y="5238.6">::experimental::detail</text><text class="c" x="315.2" y="5253.3">::IsTuple&lt; T &gt;</text></g>
<g id="n69" class="n"><rect x="184.5" y="5286.8" width="261.5" height="55"/><text x="195.3" y="5303.6">sycl::_V1::ext::oneapi</text><text x="195.3" y="5318.3">::experimental::detail</text><text class="c" x="315.2" y="5333">::IsUsmKindDevice&lt; PropertyListT &gt;</text></g>
<g id="n70" class="n"><rect x="191.7" y="5366.9" width="247" height="55"/><text x="202.5" y="5383.7">sycl::_V1::ext::oneapi</text><text x="202.5" y="5398.4">::experimental::detail</text><text class="c" x="315.2" y="5413.1">::IsUsmKindHost&lt; PropertyListT &gt;</text></g>
<g id="n71" class="n"><rect x="184.5" y="5447" width="261.5" height="55"/><text x="195.3" y="5463.8">sycl::_V1::ext::oneapi</text><text x="195.3" y="5478.5">::experimental::detail</text><text class="c" x="315.2" y="5493.2">::IsUsmKindShared&lt; PropertyListT &gt;</text></g>
<g id="n72" class="n"><rect x="229.3" y="5527.7" width="171.9" height="69.7"/><text x="240.1" y="5544.5">sycl::_V1::ext::oneapi</text><text x="240.1" y="5559.2">::experimental::detail</text><text x="240.1" y="5573.8">::ValidAllocPropertyList</text><text class="c" x="315.2" y="5588.5">&lt; T, propertyList &gt;</text></g>
<g id="n73" class="n"><rect x="227.6" y="5623.1" width="175.3" height="55"/><text x="238.4" y="5639.9">sycl::_V1::ext::oneapi</text><text x="238.4" y="5654.6">::experimental::detail</text><text class="c" x="315.2" y="5669.3">::is_ann_arg_impl&lt; T &gt;</text></g>
<g id="n74" class="n"><rect x="229.8" y="5702.8" width="170.9" height="55"/><text x="240.6" y="5719.6">sycl::_V1::ext::oneapi</text><text x="240.6" y="5734.3">::experimental::detail</text><text class="c" x="315.2" y="5749">::is_ann_ref_impl&lt; T &gt;</text></g>
<g id="n75" class="n"><rect x="229.8" y="5783" width="170.9" height="55"/><text x="240.6" y="5799.8">sycl::_V1::ext::oneapi</text><text x="240.6" y="5814.5">::experimental::detail</text><text class="c" x="315.2" y="5829.2">::is_group_helper&lt; T &gt;</text></g>
<g id="n76" class="n"><rect x="223.3" y="5863.6" width="183.9" height="69.7"/><text x="234.1" y="5880.4">sycl::_V1::ext::oneapi</text><text x="234.1" y="5895.1">::experimental::detail</text><text x="234.1" y="5909.7">::is_instance_of_tmpl_int</text><text class="c" x="315.2" y="5924.4">&lt; T, Tmpl &gt;</text></g>
<g id="n77" class="n"><rect x="223.3" y="5958.3" width="183.9" height="69.7"/><text x="234.1" y="5975.1">sycl::_V1::ext::oneapi</text><text x="234.1" y="5989.8">::experimental::detail</text><text x="234.1" y="6004.4">::is_instance_of_tmpl_int</text><text class="c" x="315.2" y="6019.1">_bool&lt; T, Tmpl &gt;</text></g>
<g id="n78" class="n"><rect x="229.3" y="6052.9" width="171.9" height="69.7"/><text x="240.1" y="6069.7">sycl::_V1::ext::oneapi</text><text x="240.1" y="6084.4">::experimental::detail</text><text x="240.1" y="6099">::is_range_or_nd_range</text><text class="c" x="315.2" y="6113.7">&lt; RangeT &gt;</text></g>
<g id="n79" class="n"><rect x="206.4" y="6148.3" width="217.6" height="55"/><text x="217.2" y="6165.1">sycl::_V1::ext::oneapi</text><text x="217.2" y="6179.8">::experimental::detail</text><text class="c" x="315.2" y="6194.5">::is_simd_or_mask_type&lt; T &gt;</text></g>
<g id="n80" class="n"><rect x="228.8" y="6228.2" width="172.9" height="55"/><text x="239.6" y="6245">sycl::_V1::ext::oneapi</text><text x="239.6" y="6259.7">::experimental::detail</text><text class="c" x="315.2" y="6274.4">::is_uniform_type&lt; T &gt;</text></g>
<g id="n81" class="n"><rect x="227.6" y="6308.3" width="175.3" height="55"/><text x="238.4" y="6325.1">sycl::_V1::ext::oneapi</text><text x="238.4" y="6339.8">::experimental::is_fixed</text><text class="c" x="315.2" y="6354.5">_topology_group&lt; T &gt;</text></g>
<g id="n82" class="n"><rect x="193.9" y="6388.7" width="242.7" height="55"/><text x="204.7" y="6405.5">sycl::_V1::ext::oneapi</text><text x="204.7" y="6420.2">::experimental::is_property</text><text class="c" x="315.2" y="6434.9">_key_of&lt; typename, typename &gt;</text></g>
<g id="n83" class="n"><rect x="215.8" y="6469.4" width="198.9" height="55"/><text x="226.6" y="6486.2">sycl::_V1::ext::oneapi</text><text x="226.6" y="6500.9">::experimental::is_property</text><text class="c" x="315.2" y="6515.6">_list&lt; propertiesT &gt;</text></g>
<g id="n84" class="n"><rect x="221.8" y="6549.6" width="186.8" height="55"/><text x="232.6" y="6566.4">sycl::_V1::ext::oneapi</text><text x="232.6" y="6581.1">::experimental::is_user</text><text class="c" x="315.2" y="6595.8">_constructed_group&lt; T &gt;</text></g>
<g id="n85" class="n"><rect x="200.6" y="6630.4" width="229.2" height="55"/><text x="211.4" y="6647.2">sycl::_V1::ext::oneapi</text><text x="211.4" y="6661.9">::experimental::is_valid</text><text class="c" x="315.2" y="6676.6">_property&lt; T, PropertyValueT &gt;</text></g>
<g id="n86" class="n"><rect x="203.8" y="6711.1" width="222.9" height="55"/><text x="214.6" y="6727.9">sycl::_V1::ext::oneapi</text><text x="214.6" y="6742.6">::experimental::propagateToPtr</text><text class="c" x="315.2" y="6757.3">Annotation&lt; PropTy &gt;</text></g>
<g id="n87" class="n"><rect x="196.5" y="6792.3" width="237.4" height="40.3"/><text x="207.3" y="6809.1">sycl::_V1::ext::oneapi</text><text class="c" x="315.2" y="6823.7">::is_compile_time_property&lt; T &gt;</text></g>
<g id="n88" class="n"><rect x="205.7" y="6858.1" width="219.1" height="40.3"/><text x="216.5" y="6874.9">sycl::_V1::is_property</text><text class="c" x="315.2" y="6889.5">_of&lt; propertyT, syclObjectT &gt;</text></g>
</g>
</svg>
